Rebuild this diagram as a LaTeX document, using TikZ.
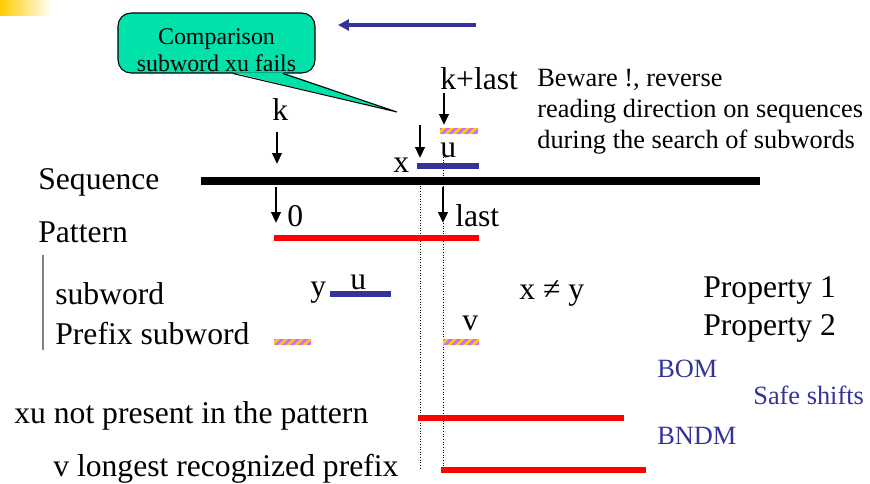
\documentclass[tikz,border=0pt]{standalone}
\usepackage{fontspec}
\setmainfont{Liberation Serif}
\usepackage{tikz}
\usetikzlibrary{arrows.meta}

\definecolor{seqblue}{RGB}{51,51,153}
\definecolor{barred}{RGB}{255,0,0}
\definecolor{calloutgreen}{RGB}{0,226,170}
\definecolor{baryellow}{RGB}{255,204,0}
\definecolor{barviolet}{RGB}{204,110,255}

\begin{document}
\begin{tikzpicture}[
    x=0.02cm, y=-0.02cm,
    every node/.style={inner sep=0pt, anchor=base west, font=\fontsize{18}{21}\selectfont},
    small/.style={font=\fontsize{15}{17.6}\selectfont},
    note/.style={font=\fontsize{15}{17.6}\selectfont, text=seqblue},
    callout/.style={draw, fill=calloutgreen, rounded corners=0.26cm, anchor=center, minimum width=3.94cm, minimum height=1.2cm, line width=0.6pt},
    callouttext/.style={anchor=center, align=center, font=\fontsize{13.6}{15.6}\selectfont},
    arrow/.style={-{Triangle[length=0.22cm, width=0.19cm]}, line width=1.4pt},
    backarrow/.style={-{Triangle[length=0.22cm, width=0.22cm]}, line width=2.2pt, seqblue},
    bluebar/.style={seqblue, line width=3.4pt},
    redbar/.style={barred, line width=3.4pt},
    stripebar/.style={fill=baryellow, path picture={
        \foreach \i in {-1,...,5}
            \fill[barviolet] ([xshift=\i*0.16cm]path picture bounding box.south west) -- ++(0.08cm,0cm) -- ++(0.12cm,0.12cm) -- ++(-0.08cm,0cm) -- cycle;
    }},
    guide/.style={densely dotted, line width=0.5pt}
]
    \useasboundingbox (0,0) rectangle (870,484);
    \shade[left color=baryellow, right color=white] (0,0) rectangle (52,15);

    \node[callout] (cmp) at (216.5,43) {};
    \coordinate (tip) at (397,112);
    \fill[calloutgreen] ([xshift=0.33cm, yshift=0.6pt]cmp.south) -- (tip) -- ([xshift=1.33cm, yshift=0.6pt]cmp.south) -- cycle;
    \draw[line width=0.6pt] ([xshift=0.33cm]cmp.south) -- (tip) -- ([xshift=1.33cm]cmp.south);
    \node[callouttext] (cmptext) at (216.5,50) {Comparison\\subword xu fails};

    \coordinate (revA) at (476,25);
    \coordinate (revB) at (338,25);
    \draw[backarrow] (revA) -- (revB);

    \node (seq)     at (38,189)  {Sequence};
    \node (pat)     at (38,242)  {Pattern};
    \node (sub)     at (55,304)  {subword};
    \node (pre)     at (55,344)  {Prefix subword};
    \node (notpres) at (14,423)  {xu not present in the pattern};
    \node (longest) at (53,476)  {v longest recognized prefix};

    \node (k)       at (272,120) {k};
    \node (klast)   at (440,89)  {k+last};
    \node (xlab)    at (393,172) {x};
    \node (ulab)    at (440,157) {u};
    \node (zero)    at (287,226) {0};
    \node (lastlab) at (455,226) {last};
    \node (ylab)    at (310,296) {y};
    \node (usub)    at (350,289) {u};
    \node (neq)     at (519,299) {x ≠ y};
    \node (vlab)    at (462,330) {v};
    \node (prop1)   at (703,297) {Property 1};
    \node (prop2)   at (703,335) {Property 2};

    \node[small, align=left, anchor=north west] (beware) at (537,69)
        {Beware !, reverse\\reading direction on sequences\\during the search of subwords};
    \node[note] (bom)  at (657,377) {BOM};
    \node[note] (safe) at (753,404) {Safe shifts};
    \node[note] (bndm) at (657,444) {BNDM};

    \draw[line width=4pt] (201,181) -- (760,181);
    \draw[gray, line width=1pt] (43,255) -- (43,350);
    \draw[guide] (420,183) -- (420,469);
    \draw[guide] (443,157) -- (443,471);

    \draw[bluebar] (417,166) -- (479,166);
    \draw[bluebar] (330,294) -- (391,294);
    \draw[redbar] (274,238) -- (479,238);
    \draw[redbar] (418,418) -- (624,418);
    \draw[redbar] (441,470) -- (646,470);
    \path[stripebar] (440,128) rectangle (478,134);
    \path[stripebar] (274,339) rectangle (311,345);
    \path[stripebar] (443,339) rectangle (479,345);

    \coordinate (kA) at (277,132);
    \coordinate (kB) at (277,164);
    \coordinate (klA) at (444,93);
    \coordinate (klB) at (444,125);
    \coordinate (xA) at (420,125);
    \coordinate (xB) at (420,158);
    \coordinate (zA) at (276,187);
    \coordinate (zB) at (276,223);
    \coordinate (lA) at (443,187);
    \coordinate (lB) at (443,223);
    \draw[arrow] (kA) -- (kB);
    \draw[arrow] (klA) -- (klB);
    \draw[arrow] (xA) -- (xB);
    \draw[arrow] (zA) -- (zB);
    \draw[arrow] (lA) -- (lB);
\end{tikzpicture}
\end{document}
